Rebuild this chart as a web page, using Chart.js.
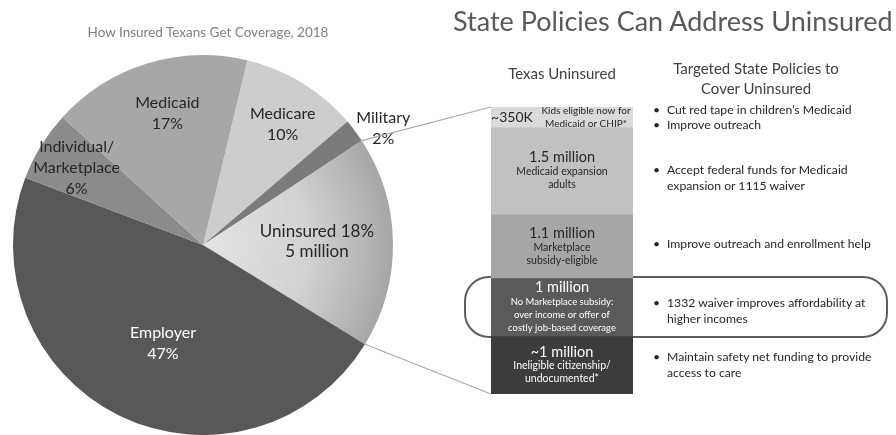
<!DOCTYPE html>
<html>
<head>
<meta charset="utf-8">
<script src="https://cdn.jsdelivr.net/npm/chart.js@4.4.1/dist/chart.umd.min.js"></script>
<style>
  body { margin: 0; background: #fff; font-family: Lato, "Open Sans", sans-serif; }
  #wrap { position: relative; width: 896px; height: 435px; overflow: hidden; }
  #wrap canvas { position: absolute; left: 0; top: 0; }
  .txt { position: absolute; white-space: nowrap; }
  .c { transform: translate(-50%, -50%); text-align: center; }
  .bul { position: absolute; font-size: 12.2px; color: #262626; line-height: 16px; white-space: nowrap; }
  .bul span { position: absolute; left: -14px; }
</style>
</head>
<body>
<div id="wrap">
  <canvas id="pie" width="896" height="435"></canvas>
  <canvas id="bar" width="896" height="435"></canvas>
  <div class="txt c" style="left:208px; top:32px; font-size:13.5px; color:#7f7f7f;">How Insured Texans Get Coverage, 2018</div>
  <div class="txt" style="left:453px; top:4px; font-size:27px; color:#595959;">State Policies Can Address Uninsured</div>
  <div class="txt c" style="left:562px; top:73px; font-size:15px; color:#404040;">Texas Uninsured</div>
  <div class="txt c" style="left:756px; top:78px; font-size:15px; color:#404040; line-height:20px;">Targeted State Policies to<br>Cover Uninsured</div>
  <div id="bullets"></div>
</div>
<script>
// pie: how insured Texans get coverage (percent of population)
const coverageNames = [['Medicare'], ['Military'], ['Uninsured'], ['Employer'], ['Individual/', 'Marketplace'], ['Medicaid']];
const coverageShares = [10, 2, 18, 47, 6, 17];
const uninsuredCount = '5 million';

// stacked column: Texas uninsured by group (millions)
const groupLabels = ['~350K', '1.5 million', '1.1 million', '1 million', '~1 million'];
const groupMillions = [0.35, 1.5, 1.1, 1.0, 1.0];
const groupNotes = [
  ['Kids eligible now for', 'Medicaid or CHIP*'],
  ['Medicaid expansion', 'adults'],
  ['Marketplace', 'subsidy-eligible'],
  ['No Marketplace subsidy:', 'over income or offer of', 'costly job-based coverage'],
  ['Ineligible citizenship/', 'undocumented*']
];
const policyLines = [
  ['Cut red tape in children\u2019s Medicaid', 'Improve outreach'],
  ['Accept federal funds for Medicaid\nexpansion or 1115 waiver'],
  ['Improve outreach and enrollment help'],
  ['1332 waiver improves affordability at\nhigher incomes'],
  ['Maintain safety net funding to provide\naccess to care']
];

// styling
const sliceColors = ['#cdcdcd', '#7b7b7b', null, '#585858', '#8b8b8b', '#a7a7a7'];
const sliceText = ['#262626', '#262626', '#262626', '#ffffff', '#262626', '#262626'];
const labelRadius = [0.76, 1.13, 0.6, 0.56, 0.78, 0.72];
const labelNudge = [2, 4, -1, -4, 0, 2];
const groupColors = ['#dadada', '#c1c1c1', '#a6a6a6', '#5a5a5a', '#3c3c3c'];
const policyTops = [102, 162, 236, 295, 349];

const FONT = 'Lato, "Open Sans", sans-serif';

const bulletBox = document.getElementById('bullets');
policyLines.forEach((items, g) => {
  let top = policyTops[g];
  items.forEach(item => {
    const d = document.createElement('div');
    d.className = 'bul';
    d.style.left = '667px';
    d.style.top = top + 'px';
    d.innerHTML = '<span>\u2022</span>' + item.replace('\n', '<br>');
    bulletBox.appendChild(d);
    top += 16 * item.split('\n').length - 1;
  });
});

function uninsuredFill(context) {
  const chart = context.chart;
  const area = chart.chartArea;
  if (!area) return '#c8c8c8';
  const cx = (area.left + area.right) / 2;
  const cy = (area.top + area.bottom) / 2;
  const g = chart.ctx.createRadialGradient(cx, cy, 0, cx, cy, 195);
  g.addColorStop(0, '#e4e4e4');
  g.addColorStop(0.55, '#d2d2d2');
  g.addColorStop(1, '#a4a4a4');
  return g;
}

const pieLabels = {
  id: 'pieLabels',
  afterDatasetsDraw(chart) {
    const ctx = chart.ctx;
    const arcs = chart.getDatasetMeta(0).data;
    ctx.save();
    ctx.textAlign = 'center';
    ctx.textBaseline = 'middle';
    arcs.forEach((arc, i) => {
      const mid = (arc.startAngle + arc.endAngle) / 2 + labelNudge[i] * Math.PI / 180;
      const r = arc.outerRadius * labelRadius[i];
      const x = arc.x + Math.cos(mid) * r;
      const y = arc.y + Math.sin(mid) * r;
      let lines;
      if (i === 2) lines = [coverageNames[i][0] + ' ' + coverageShares[i] + '%', uninsuredCount];
      else lines = coverageNames[i].concat([coverageShares[i] + '%']);
      const size = i === 2 ? 17 : 16;
      const lh = i === 2 ? 20 : 21;
      ctx.font = size + 'px ' + FONT;
      ctx.fillStyle = sliceText[i];
      lines.forEach((ln, k) => {
        ctx.fillText(ln, x, y + (k - (lines.length - 1) / 2) * lh);
      });
    });
    ctx.restore();
  }
};

const pieChart = new Chart(document.getElementById('pie'), {
  type: 'pie',
  data: {
    labels: coverageNames.map(n => n.join(' ')),
    datasets: [{
      data: coverageShares,
      backgroundColor: ctx => ctx.dataIndex === 2 ? uninsuredFill(ctx) : sliceColors[ctx.dataIndex],
      borderWidth: 0
    }]
  },
  options: {
    responsive: false,
    animation: false,
    devicePixelRatio: 1,
    rotation: 13.5,
    layout: { padding: { left: 13, top: 55, right: 503, bottom: 0 } },
    plugins: { legend: { display: false }, tooltip: { enabled: false } }
  },
  plugins: [pieLabels]
});

const barDecor = {
  id: 'barDecor',
  beforeDatasetsDraw(chart) {
    const ctx = chart.ctx;
    const yScale = chart.scales.y;
    const first = chart.getDatasetMeta(0).data[0];
    const left = first.x - first.width / 2;
    const top = yScale.getPixelForValue(0);
    const bottom = yScale.getPixelForValue(yScale.max);
    // connector lines from the uninsured slice to the column
    const arc = pieChart.getDatasetMeta(0).data[2];
    ctx.save();
    ctx.strokeStyle = '#a9a9a9';
    ctx.lineWidth = 1.2;
    ctx.beginPath();
    ctx.moveTo(arc.x + Math.cos(arc.startAngle) * arc.outerRadius, arc.y + Math.sin(arc.startAngle) * arc.outerRadius);
    ctx.lineTo(left, top);
    ctx.moveTo(arc.x + Math.cos(arc.endAngle) * arc.outerRadius, arc.y + Math.sin(arc.endAngle) * arc.outerRadius);
    ctx.lineTo(left, bottom);
    ctx.stroke();
    // highlight box around the 1332 waiver group
    const seg = chart.getDatasetMeta(3).data[0];
    const sTop = Math.min(seg.y, seg.base) - 1;
    const sBot = Math.max(seg.y, seg.base) + 1;
    ctx.strokeStyle = '#5e5e5e';
    ctx.lineWidth = 2;
    ctx.beginPath();
    ctx.roundRect(465, sTop, 422, sBot - sTop, 24);
    ctx.stroke();
    ctx.restore();
  },
  afterDatasetsDraw(chart) {
    const ctx = chart.ctx;
    ctx.save();
    ctx.textBaseline = 'middle';
    ctx.textAlign = 'center';
    chart.data.datasets.forEach((ds, i) => {
      const el = chart.getDatasetMeta(i).data[0];
      const segTop = Math.min(el.y, el.base);
      const segBot = Math.max(el.y, el.base);
      const cy = (segTop + segBot) / 2;
      const cx = el.x;
      const left = el.x - el.width / 2;
      ctx.fillStyle = i < 3 ? '#262626' : '#ffffff';
      const notes = groupNotes[i];
      if (i === 0) {
        ctx.font = '14px ' + FONT;
        ctx.fillText(groupLabels[i], left + 21, cy);
        ctx.font = '10px ' + FONT;
        notes.forEach((n, k) => ctx.fillText(n, left + 95, cy + (k - 0.5) * 13));
        return;
      }
      const small = notes.length > 2 ? 9.5 : 10.5;
      const blockH = 14 + notes.length * 13;
      let y = cy - blockH / 2 + 7;
      ctx.font = '14.5px ' + FONT;
      ctx.fillText(groupLabels[i], cx, y);
      ctx.font = small + 'px ' + FONT;
      notes.forEach((n, k) => ctx.fillText(n, cx, y + 14 + k * 13));
    });
    ctx.restore();
  }
};

const groupTotal = groupMillions.reduce((a, b) => a + b, 0);

new Chart(document.getElementById('bar'), {
  type: 'bar',
  data: {
    labels: ['Texas uninsured'],
    datasets: groupMillions.map((v, i) => ({
      label: groupLabels[i],
      data: [v],
      backgroundColor: groupColors[i],
      borderWidth: 0,
      barPercentage: 1,
      categoryPercentage: 1,
      stack: 'u'
    }))
  },
  options: {
    responsive: false,
    animation: false,
    devicePixelRatio: 1,
    layout: { padding: { left: 491, right: 263, top: 107, bottom: 41 } },
    scales: {
      x: { stacked: true, display: false },
      y: { stacked: true, display: false, min: 0, max: groupTotal, reverse: true }
    },
    plugins: { legend: { display: false }, tooltip: { enabled: false } }
  },
  plugins: [barDecor]
});
</script>
</body>
</html>
